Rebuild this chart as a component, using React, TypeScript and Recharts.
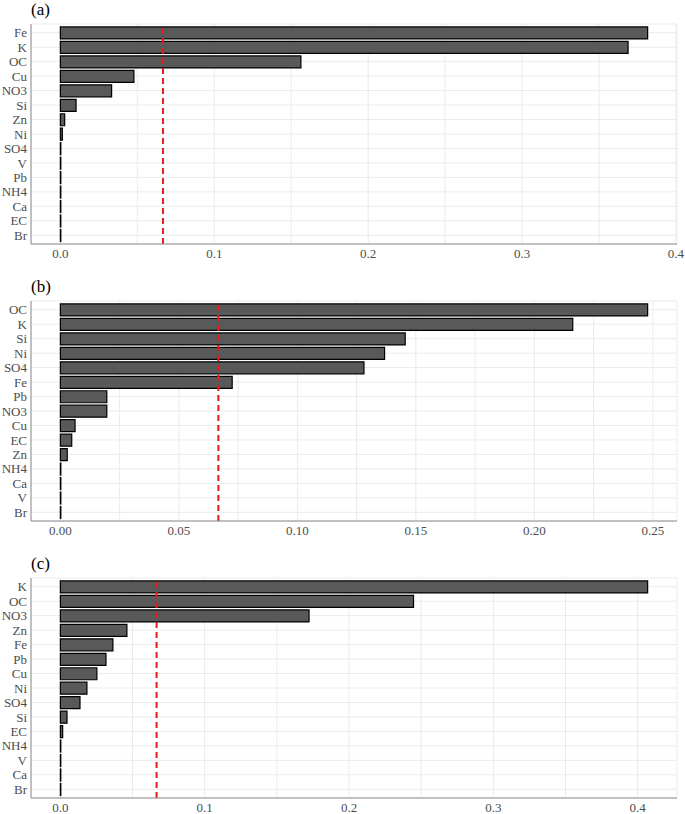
import { BarChart, Bar, XAxis, YAxis, CartesianGrid, ReferenceLine } from 'recharts';

// panel (a)
const speciesA = ['Fe', 'K', 'OC', 'Cu', 'NO3', 'Si', 'Zn', 'Ni', 'SO4', 'V', 'Pb', 'NH4', 'Ca', 'EC', 'Br'];
const valuesA = [0.3816, 0.3689, 0.1563, 0.0478, 0.0333, 0.0102, 0.0028, 0.0013, 0.0003, 0.0003, 0.0003, 0.0003, 0.0003, 0.0003, 0.0003];
const ticksA = [0, 0.05, 0.1, 0.15, 0.2, 0.25, 0.3, 0.35, 0.4];
const labelsA = [0, 0.1, 0.2, 0.3, 0.4];

// panel (b)
const speciesB = ['OC', 'K', 'Si', 'Ni', 'SO4', 'Fe', 'Pb', 'NO3', 'Cu', 'EC', 'Zn', 'NH4', 'Ca', 'V', 'Br'];
const valuesB = [0.2478, 0.2162, 0.1455, 0.1368, 0.1281, 0.0725, 0.0196, 0.0196, 0.0062, 0.0048, 0.0029, 0.0002, 0.0002, 0.0002, 0.0002];
const ticksB = [0, 0.025, 0.05, 0.075, 0.1, 0.125, 0.15, 0.175, 0.2, 0.225, 0.25];
const labelsB = [0, 0.05, 0.1, 0.15, 0.2, 0.25];

// panel (c)
const speciesC = ['K', 'OC', 'NO3', 'Zn', 'Fe', 'Pb', 'Cu', 'Ni', 'SO4', 'Si', 'EC', 'NH4', 'V', 'Ca', 'Br'];
const valuesC = [0.4069, 0.2447, 0.1723, 0.0461, 0.0364, 0.0316, 0.0253, 0.0184, 0.0136, 0.0046, 0.0016, 0.0003, 0.0003, 0.0003, 0.0003];
const ticksC = [0, 0.05, 0.1, 0.15, 0.2, 0.25, 0.3, 0.35, 0.4];
const labelsC = [0, 0.1, 0.2, 0.3, 0.4];

// 1 / number of species
const threshold = 1 / 15;

const FONT = "'Times New Roman', 'Liberation Serif', Tinos, serif";
const BORDER = '#8c8c8c';
const TEXT = '#4d4d4d';

interface PanelProps {
  tag: string;
  species: string[];
  values: number[];
  ticks: number[];
  labels: number[];
  digits: number;
  top: number;
}

const Panel = ({ tag, species, values, ticks, labels, digits, top }: PanelProps) => {
  const rows = species.map((name, i) => ({ name, value: values[i] }));
  const max = Math.max(...values);
  const domain = [-0.05 * max, 1.05 * max];
  const fmt = (v: number) => (labels.some((l) => Math.abs(l - v) < 1e-9) ? v.toFixed(digits) : '');

  return (
    <>
      <div
        style={{
          position: 'absolute',
          left: 31,
          top: top - 23,
          fontFamily: FONT,
          fontSize: 17,
          color: '#000',
          lineHeight: '17px',
        }}
      >
        {tag}
      </div>
      <div style={{ position: 'absolute', left: 0, top: top - 2 }}>
        <BarChart
          width={685}
          height={244}
          data={rows}
          layout="vertical"
          margin={{ top: 2, right: 8, bottom: 0, left: 0 }}
          barCategoryGap="10%"
        >
          <CartesianGrid stroke="#ebebeb" strokeWidth={1} />
          <XAxis
            type="number"
            dataKey="value"
            domain={domain}
            ticks={ticks}
            tickFormatter={fmt}
            interval={0}
            height={22}
            tickLine={false}
            tickSize={0}
            tickMargin={5}
            axisLine={{ stroke: BORDER }}
            tick={{ fontFamily: FONT, fontSize: 13, fill: TEXT }}
          />
          <XAxis
            xAxisId="top"
            orientation="top"
            type="number"
            domain={domain}
            height={0}
            tick={false}
            tickLine={false}
            axisLine={{ stroke: BORDER }}
          />
          <YAxis
            type="category"
            dataKey="name"
            width={31}
            interval={0}
            tickLine={false}
            tickSize={0}
            tickMargin={4}
            padding={{ top: 1.5, bottom: 1.5 }}
            axisLine={{ stroke: BORDER }}
            tick={{ fontFamily: FONT, fontSize: 13, fill: TEXT }}
          />
          <YAxis
            yAxisId="right"
            orientation="right"
            type="category"
            dataKey="name"
            width={0}
            tick={false}
            tickLine={false}
            axisLine={{ stroke: BORDER }}
          />
          <Bar dataKey="value" fill="#595959" stroke="#000" strokeWidth={1.2} isAnimationActive={false} />
          <ReferenceLine x={threshold} stroke="#e41a1c" strokeWidth={2} strokeDasharray="6 4" />
        </BarChart>
      </div>
    </>
  );
};

const App = () => {
  return (
    <div
      style={{
        position: 'absolute',
        left: 0,
        top: 0,
        width: 685,
        height: 814,
        overflow: 'hidden',
        background: '#fff',
      }}
    >
      <Panel tag="(a)" species={speciesA} values={valuesA} ticks={ticksA} labels={labelsA} digits={1} top={24} />
      <Panel tag="(b)" species={speciesB} values={valuesB} ticks={ticksB} labels={labelsB} digits={2} top={301} />
      <Panel tag="(c)" species={speciesC} values={valuesC} ticks={ticksC} labels={labelsC} digits={1} top={578} />
    </div>
  );
};

export default App;
